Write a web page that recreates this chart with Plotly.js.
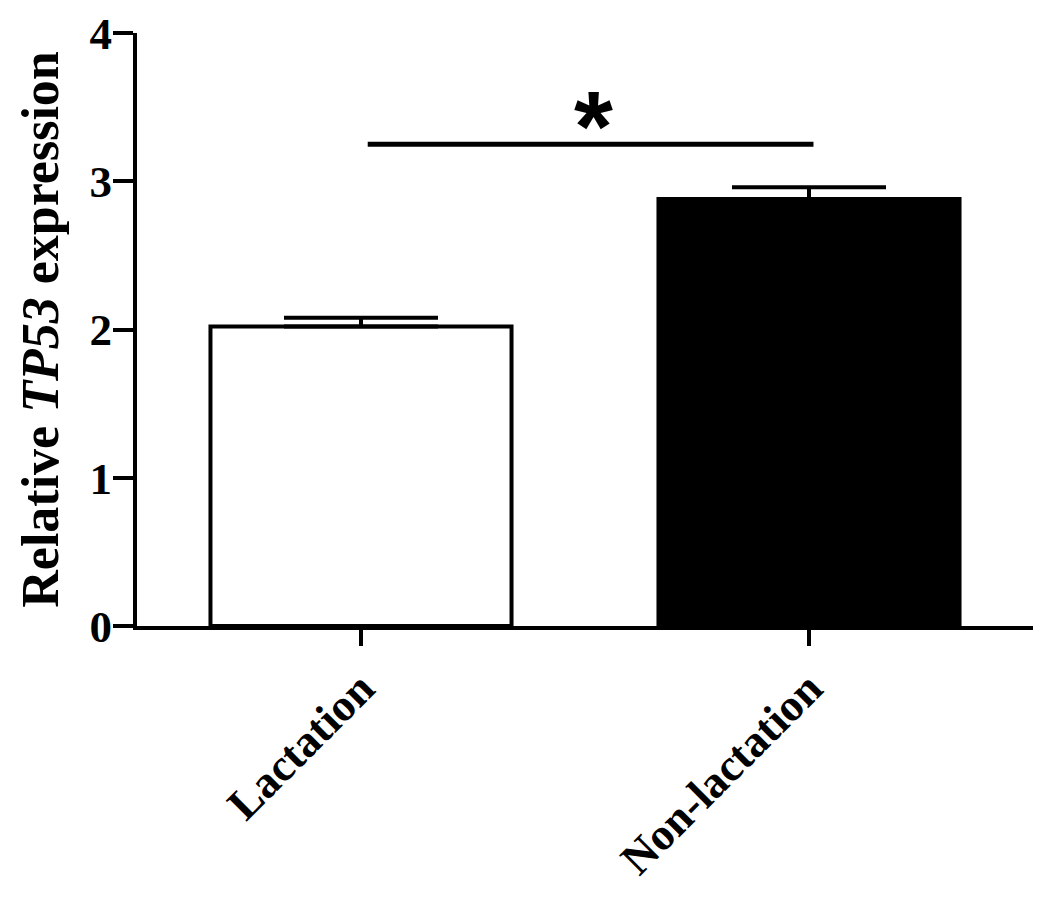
<!DOCTYPE html>
<html>
<head>
<meta charset="utf-8">
<script src="https://cdn.plot.ly/plotly-3.0.1.min.js"></script>
<style>
  html, body { margin: 0; padding: 0; background: #fff; }
  #plot { width: 1059px; height: 899px; }
</style>
</head>
<body>
<div id="plot"></div>
<script>
// group names and values
const groups = ['Lactation', 'Non-lactation']
const means = [2.02, 2.88]
const sems = [0.06, 0.08]
const barColors = ['#ffffff', '#000000']

// significance bracket between the two groups
const sigY = 3.25
const sigLabel = '*'

const serif = 'Liberation Serif, Times New Roman, serif'

const trace = {
  type: 'bar',
  x: groups,
  y: means,
  width: 0.672,
  marker: {
    color: barColors,
    line: { color: '#000', width: 4 }
  },
  error_y: {
    type: 'data',
    symmetric: false,
    array: sems,
    arrayminus: sems.map(() => 0),
    color: '#000',
    thickness: 4,
    width: 77
  },
  hoverinfo: 'x+y'
}

const layout = {
  width: 1059,
  height: 899,
  margin: { l: 137, r: 26, t: 33, b: 273 },
  paper_bgcolor: '#fff',
  plot_bgcolor: '#fff',
  showlegend: false,
  font: { family: serif, color: '#000', weight: 'bold' },
  xaxis: {
    type: 'category',
    range: [-0.5, 1.5],
    showline: true,
    linewidth: 4,
    linecolor: '#000',
    ticks: 'outside',
    ticklen: 16,
    tickwidth: 4,
    tickcolor: '#000',
    tickangle: -45,
    tickfont: { family: serif, size: 45, weight: 'bold', color: '#000' },
    ticklabelstandoff: -2,
    showgrid: false,
    zeroline: false
  },
  yaxis: {
    range: [0, 4],
    dtick: 1,
    showline: true,
    linewidth: 4,
    linecolor: '#000',
    ticks: 'outside',
    ticklen: 20,
    tickwidth: 4,
    tickcolor: '#000',
    tickfont: { family: serif, size: 45, weight: 'bold', color: '#000' },
    ticklabelstandoff: -8,
    showgrid: false,
    zeroline: false,
    title: {
      text: 'Relative <i>TP53</i> expression',
      font: { family: serif, size: 52, weight: 'bold', color: '#000' },
      standoff: 15
    }
  },
  shapes: [
    {
      type: 'line',
      xref: 'x', yref: 'y',
      x0: 0.015, x1: 1.01,
      y0: sigY, y1: sigY,
      line: { color: '#000', width: 5 }
    }
  ],
  annotations: [
    {
      xref: 'x', yref: 'y',
      x: 0.52, y: sigY + 0.12,
      text: sigLabel,
      showarrow: false,
      yanchor: 'middle',
      font: { family: 'Liberation Sans, Arial, sans-serif', size: 100, weight: 'bold', color: '#000' }
    }
  ]
}

Plotly.newPlot('plot', [trace], layout, { displayModeBar: false, staticPlot: true })
</script>
</body>
</html>
